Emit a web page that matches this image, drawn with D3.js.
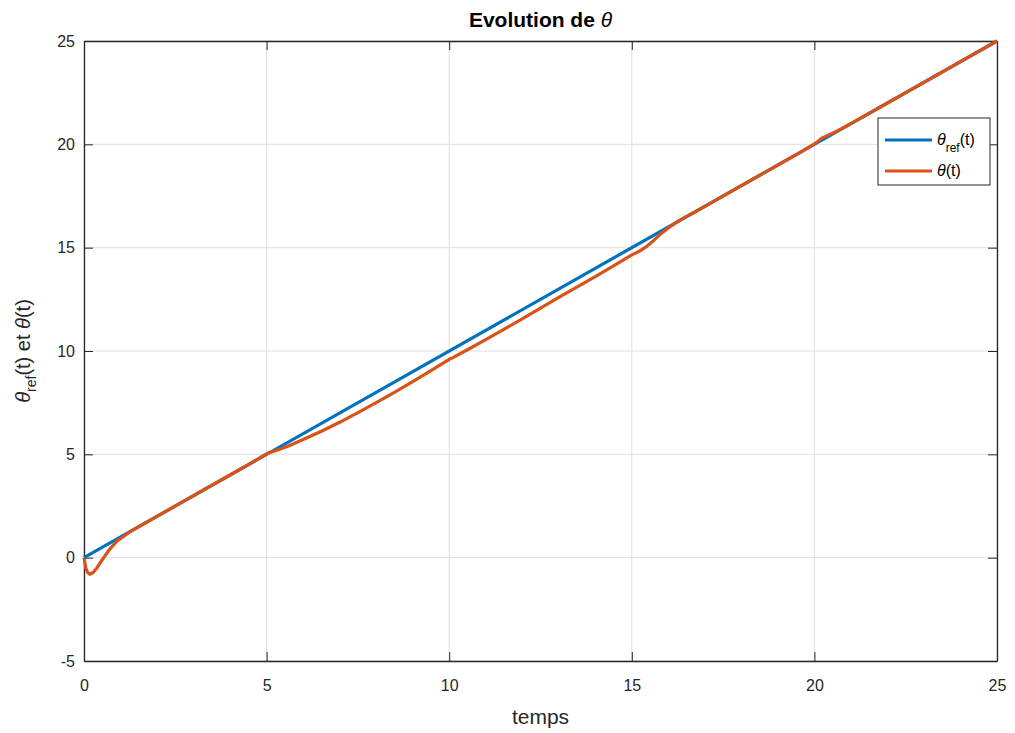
<!DOCTYPE html>
<html><head><meta charset="utf-8">
<script src="https://cdn.jsdelivr.net/npm/d3@7"></script>
<style>body{margin:0;background:#fff;} text{font-family:"Liberation Sans",Arial,sans-serif;}</style>
</head><body>
<svg id="c" width="1015" height="733"></svg>
<script>
const xTicks = [0,5,10,15,20,25];
const yTicks = [-5,0,5,10,15,20,25];
const refTime = [0, 25];
const refTheta = [0, 25];
const time = [0,0.05,0.1,0.16,0.25,0.35,0.5,0.7,0.9,1.1,1.3,1.6,2,3,4,4.5,4.9,5.05,5.2,5.4,5.6,6,6.5,7,7.5,8,8.5,9,9.5,10,10.1,10.5,11,12,13,14,14.5,15,15.2,15.4,15.6,15.8,16,16.2,16.4,16.7,17,18,19,19.6,20,20.1,20.2,20.35,20.6,21,22,23,24,25];
const theta = [0,-0.5,-0.72,-0.8,-0.72,-0.5,-0.1,0.4,0.8,1.05,1.3,1.6,2,3,4,4.5,4.92,5.07,5.15,5.27,5.4,5.72,6.12,6.55,7.02,7.5,8.0,8.52,9.05,9.6,9.68,10.06,10.55,11.55,12.6,13.6,14.12,14.65,14.82,15.05,15.35,15.68,15.95,16.2,16.42,16.7,17,18,19,19.6,20.02,20.15,20.3,20.42,20.62,21,22,23,24,25];

const svg = d3.select("#c");
const m = {l:84, r:997, t:41, b:661};
const x = d3.scaleLinear().domain([0,25]).range([m.l, m.r]);
const y = d3.scaleLinear().domain([-5,25]).range([m.b, m.t]);

// grid
svg.append("g").selectAll("line").data(xTicks).join("line")
  .attr("x1",d=>x(d)).attr("x2",d=>x(d)).attr("y1",m.t).attr("y2",m.b)
  .attr("stroke","#dfdfdf").attr("stroke-width",1);
svg.append("g").selectAll("line").data(yTicks).join("line")
  .attr("y1",d=>y(d)).attr("y2",d=>y(d)).attr("x1",m.l).attr("x2",m.r)
  .attr("stroke","#dfdfdf").attr("stroke-width",1);

const fmt = d3.format("d");
const fmtH = d => fmt(d).replace("−","-");
// axes
const xa = svg.append("g").attr("transform",`translate(0,${m.b})`)
  .call(d3.axisBottom(x).tickValues(xTicks).tickSizeInner(-9).tickSizeOuter(0).tickPadding(19).tickFormat(fmtH));
const xa2 = svg.append("g").attr("transform",`translate(0,${m.t})`)
  .call(d3.axisTop(x).tickValues(xTicks).tickSizeInner(-9).tickSizeOuter(0).tickFormat(""));
const ya = svg.append("g").attr("transform",`translate(${m.l},0)`)
  .call(d3.axisLeft(y).tickValues(yTicks).tickSizeInner(-9).tickSizeOuter(0).tickPadding(9).tickFormat(fmtH));
const ya2 = svg.append("g").attr("transform",`translate(${m.r},0)`)
  .call(d3.axisRight(y).tickValues(yTicks).tickSizeInner(-9).tickSizeOuter(0).tickFormat(""));
[xa,xa2,ya,ya2].forEach(g=>{
  g.selectAll("path").attr("stroke","#262626").attr("stroke-width",1.3);
  g.selectAll("line").attr("stroke","#262626").attr("stroke-width",1);
  g.selectAll("text").attr("fill","#262626").style("font-size","16px").style("font-family","'Liberation Sans',Arial,sans-serif");
});

// lines
const line = d3.line().x(d=>x(d[0])).y(d=>y(d[1]));
svg.append("path").datum(refTime.map((t,i)=>[t,refTheta[i]]))
  .attr("d",line).attr("fill","none").attr("stroke","#0072BD").attr("stroke-width",3.2);
svg.append("path").datum(time.map((t,i)=>[t,theta[i]]))
  .attr("d",line).attr("stroke-linejoin","round")
  .attr("fill","none").attr("stroke","#D95319").attr("stroke-width",3.2);

// title
const title = svg.append("text").attr("x",(m.l+m.r)/2).attr("y",27).attr("text-anchor","middle")
  .attr("fill","#000").style("font-size","21px").style("font-weight","bold");
title.append("tspan").text("Evolution de ");
title.append("tspan").text("θ").style("font-style","italic").style("font-weight","normal");

// x label
svg.append("text").attr("x",(m.l+m.r)/2).attr("y",724).attr("text-anchor","middle")
  .attr("fill","#262626").style("font-size","21px").text("temps");

// y label
const yl = svg.append("text").attr("transform",`translate(30,${(m.t+m.b)/2}) rotate(-90)`)
  .attr("text-anchor","middle").attr("fill","#262626").style("font-size","20px");
yl.append("tspan").text("θ").style("font-style","italic");
yl.append("tspan").text("ref").attr("dy",6).style("font-size","14px");
yl.append("tspan").text("(t) et ").attr("dy",-6);
yl.append("tspan").text("θ").style("font-style","italic");
yl.append("tspan").text("(t)");

// legend
const lg = svg.append("g");
lg.append("rect").attr("x",878).attr("y",118).attr("width",112).attr("height",67)
  .attr("fill","#fff").attr("stroke","#262626").attr("stroke-width",1);
const items = [{c:"#0072BD", y:140, sub:true},{c:"#D95319", y:171, sub:false}];
items.forEach(it=>{
  lg.append("line").attr("x1",885).attr("x2",932).attr("y1",it.y).attr("y2",it.y)
    .attr("stroke",it.c).attr("stroke-width",3.2);
  const t = lg.append("text").attr("x",937).attr("y",it.y+5).attr("fill","#000").style("font-size","16px");
  t.append("tspan").text("θ").style("font-style","italic");
  if(it.sub){
    t.append("tspan").text("ref").attr("dy",7).style("font-size","12px");
    t.append("tspan").text("(t)").attr("dy",-7);
  } else {
    t.append("tspan").text("(t)");
  }
});
</script>
</body></html>
